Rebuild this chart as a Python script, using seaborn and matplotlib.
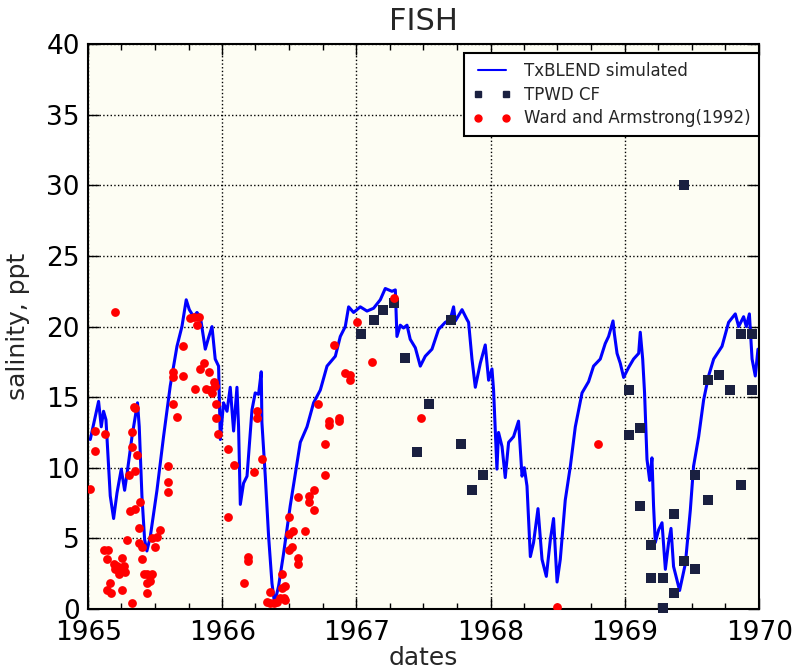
import numpy as np
import pandas as pd
import matplotlib
matplotlib.use("Agg")
import matplotlib.pyplot as plt
import matplotlib.dates as mdates
from matplotlib.lines import Line2D
import seaborn as sns

# TxBLEND simulated salinity (decimal year, ppt)
sim_year = [
    1965.015, 1965.077, 1965.097, 1965.114, 1965.132, 1965.139, 1965.164, 1965.189,
    1965.214, 1965.246, 1965.271, 1965.288, 1965.326, 1965.350, 1965.367, 1965.380,
    1965.400, 1965.420, 1965.437, 1965.462, 1965.512, 1965.561, 1965.611, 1965.661,
    1965.698, 1965.730, 1965.753, 1965.785, 1965.810, 1965.835, 1965.872, 1965.896,
    1965.922, 1965.946, 1965.971, 1965.984, 1966.008, 1966.034, 1966.058, 1966.083,
    1966.108, 1966.120, 1966.133, 1966.157, 1966.183, 1966.220, 1966.244, 1966.269,
    1966.289, 1966.294, 1966.319, 1966.344, 1966.369, 1966.388, 1966.418, 1966.455,
    1966.505, 1966.580, 1966.630, 1966.679, 1966.729, 1966.779, 1966.841, 1966.878,
    1966.915, 1966.940, 1966.977, 1967.027, 1967.077, 1967.126, 1967.176, 1967.213,
    1967.263, 1967.288, 1967.300, 1967.325, 1967.349, 1967.375, 1967.399, 1967.437,
    1967.474, 1967.511, 1967.561, 1967.610, 1967.660, 1967.697, 1967.722, 1967.735,
    1967.785, 1967.822, 1967.834, 1967.859, 1967.884, 1967.921, 1967.958, 1967.983,
    1968.008, 1968.020, 1968.045, 1968.057, 1968.083, 1968.107, 1968.132, 1968.169,
    1968.206, 1968.232, 1968.249, 1968.269, 1968.294, 1968.318, 1968.351, 1968.381,
    1968.413, 1968.443, 1968.467, 1968.493, 1968.517, 1968.554, 1968.592, 1968.629,
    1968.679, 1968.728, 1968.765, 1968.815, 1968.852, 1968.877, 1968.910, 1968.920,
    1968.940, 1968.964, 1968.989, 1969.026, 1969.063, 1969.101, 1969.113, 1969.131,
    1969.145, 1969.163, 1969.183, 1969.200, 1969.212, 1969.225, 1969.250, 1969.275,
    1969.300, 1969.324, 1969.342, 1969.361, 1969.406, 1969.449, 1969.486, 1969.510,
    1969.548, 1969.585, 1969.622, 1969.660, 1969.722, 1969.771, 1969.821, 1969.846,
    1969.883, 1969.903, 1969.926, 1969.946, 1969.970, 1969.990,
]
sim_salinity = [
    12.0, 14.7, 12.9, 14.0, 13.4, 12.2, 8.0, 6.4,
    8.2, 9.9, 8.4, 9.5, 12.2, 13.6, 14.6, 12.9,
    8.0, 4.9, 4.1, 5.1, 8.4, 12.2, 15.8, 18.6,
    20.0, 21.9, 21.2, 20.7, 21.0, 20.7, 18.4, 19.2,
    20.0, 17.7, 17.2, 12.0, 14.6, 14.0, 15.7, 12.6,
    15.7, 12.9, 7.4, 8.9, 9.4, 14.1, 15.3, 15.2,
    16.8, 13.2, 9.4, 5.1, 1.8, 0.4, 1.6, 3.9,
    7.3, 11.8, 12.9, 14.6, 15.5, 17.2, 17.9, 19.3,
    20.0, 21.4, 21.0, 21.4, 21.1, 21.3, 21.9, 22.7,
    22.5, 22.6, 19.3, 20.1, 19.9, 20.1, 19.1, 18.5,
    17.2, 17.9, 18.4, 19.8, 20.3, 20.5, 21.4, 20.4,
    21.2, 20.5, 20.3, 17.7, 15.7, 17.4, 18.7, 16.2,
    17.0, 15.5, 9.9, 12.5, 11.5, 9.3, 11.8, 12.2,
    13.3, 9.4, 10.0, 8.7, 3.7, 4.7, 7.1, 3.5,
    2.3, 4.9, 6.4, 1.9, 3.5, 7.7, 10.1, 12.9,
    15.3, 16.1, 17.2, 17.7, 18.8, 19.3, 20.4, 19.5,
    18.1, 17.4, 16.4, 17.1, 17.7, 18.1, 19.6, 17.7,
    15.3, 10.6, 9.1, 10.7, 7.3, 4.7, 5.6, 6.1,
    2.8, 4.7, 5.7, 3.0, 1.3, 3.2, 7.0, 10.1,
    12.2, 14.8, 16.5, 17.7, 18.6, 20.3, 20.9, 20.0,
    20.7, 20.0, 20.9, 17.7, 16.5, 18.4,
]

# TPWD CF observations
tpwd_year = [
    1967.034, 1967.126, 1967.196, 1967.275, 1967.357, 1967.452, 1967.536, 1967.700,
    1967.780, 1967.859, 1967.941, 1969.031, 1969.031, 1969.113, 1969.113, 1969.195,
    1969.195, 1969.280, 1969.280, 1969.361, 1969.361, 1969.441, 1969.441, 1969.523,
    1969.523, 1969.618, 1969.618, 1969.700, 1969.782, 1969.861, 1969.861, 1969.943,
    1969.943,
]
tpwd_salinity = [
    19.5, 20.5, 21.2, 21.7, 17.8, 11.1, 14.5, 20.5,
    11.7, 8.4, 9.5, 15.5, 12.3, 12.8, 7.3, 4.5,
    2.2, 2.2, 0.05, 6.7, 1.1, 30.0, 3.4, 9.5,
    2.8, 16.2, 7.7, 16.6, 15.5, 19.5, 8.8, 19.5,
    15.5,
]

# Ward and Armstrong (1992) observations
ward_year = [
    1965.201, 1965.052, 1965.052, 1965.015, 1965.127, 1965.114, 1965.147, 1965.139,
    1965.164, 1965.139, 1965.171, 1965.189, 1965.214, 1965.201, 1965.226, 1965.251,
    1965.263, 1965.276, 1965.238, 1965.251, 1965.288, 1965.326, 1965.300, 1965.313,
    1965.350, 1965.388, 1965.350, 1965.338, 1965.326, 1965.326, 1965.363, 1965.350,
    1965.375, 1965.375, 1965.400, 1965.400, 1965.412, 1965.437, 1965.462, 1965.437,
    1965.462, 1965.437, 1965.475, 1965.499, 1965.475, 1965.512, 1965.537, 1965.594,
    1965.594, 1965.594, 1965.628, 1965.628, 1965.628, 1965.661, 1965.706, 1965.706,
    1965.760, 1965.785, 1965.822, 1965.810, 1965.797, 1965.835, 1965.859, 1965.896,
    1965.877, 1965.909, 1965.922, 1965.946, 1965.934, 1965.954, 1965.954, 1965.966,
    1966.043, 1966.083, 1966.043, 1966.187, 1966.187, 1966.162, 1966.232, 1966.257,
    1966.257, 1966.294, 1966.332, 1966.351, 1966.356, 1966.381, 1966.406, 1966.431,
    1966.455, 1966.468, 1966.443, 1966.468, 1966.443, 1966.493, 1966.518, 1966.493,
    1966.525, 1966.493, 1966.560, 1966.560, 1966.560, 1966.612, 1966.642, 1966.642,
    1966.679, 1966.679, 1966.712, 1966.761, 1966.761, 1966.796, 1966.796, 1966.865,
    1966.865, 1966.833, 1966.910, 1966.947, 1966.947, 1967.005, 1967.114, 1967.275,
    1967.476, 1968.493, 1968.798,
]
ward_salinity = [
    21.0, 12.6, 11.2, 8.5, 12.4, 4.2, 4.2, 3.5,
    1.8, 1.3, 1.1, 3.2, 3.0, 2.8, 2.5, 3.6,
    3.0, 2.6, 2.9, 1.3, 4.9, 0.4, 9.5, 6.9,
    7.1, 7.6, 14.2, 14.3, 12.5, 11.5, 10.9, 9.8,
    5.7, 4.7, 4.4, 3.5, 2.5, 2.5, 2.3, 1.8,
    2.0, 1.1, 2.5, 4.4, 5.0, 5.1, 5.6, 10.1,
    9.0, 8.3, 16.8, 16.4, 14.5, 13.6, 18.6, 16.5,
    20.6, 20.7, 20.7, 20.1, 15.6, 17.0, 17.4, 16.8,
    15.6, 15.5, 15.3, 15.8, 16.1, 14.5, 13.5, 12.4,
    11.3, 10.2, 6.5, 3.7, 3.4, 1.8, 9.7, 14.0,
    13.5, 10.6, 0.5, 1.2, 0.4, 0.4, 0.5, 0.8,
    0.8, 0.6, 1.5, 1.6, 2.5, 4.2, 4.4, 5.3,
    5.5, 6.5, 7.9, 3.6, 3.2, 5.5, 8.0, 7.6,
    8.4, 7.0, 14.5, 11.7, 9.5, 13.3, 13.0, 13.5,
    13.3, 18.7, 16.7, 16.6, 16.2, 20.3, 17.5, 22.0,
    13.5, 0.15, 11.7,
]


def to_dates(years):
    y = np.asarray(years, dtype=float)
    return pd.Timestamp("1965-01-01") + pd.to_timedelta((y - 1965.0) * 365.25, unit="D")


sim = pd.DataFrame({"date": to_dates(sim_year), "salinity": sim_salinity})
tpwd = pd.DataFrame({"date": to_dates(tpwd_year), "salinity": tpwd_salinity})
ward = pd.DataFrame({"date": to_dates(ward_year), "salinity": ward_salinity})

NAVY = "#1a2040"
BG = "#fdfdf3"

sns.set_style("ticks")
plt.rcParams["font.family"] = ["DejaVu Sans"]

fig, ax = plt.subplots(figsize=(7.95, 6.72), dpi=100)
fig.subplots_adjust(left=0.111, right=0.955, bottom=0.094, top=0.934)
ax.set_facecolor(BG)

sns.lineplot(data=sim, x="date", y="salinity", color="#0000ff", linewidth=2.2,
             estimator=None, ax=ax, zorder=2)
sns.scatterplot(data=tpwd, x="date", y="salinity", marker="s", color=NAVY, s=42,
                linewidth=0, ax=ax, zorder=3, clip_on=False)
sns.scatterplot(data=ward, x="date", y="salinity", marker="o", color="red", s=40,
                linewidth=0, ax=ax, zorder=3, clip_on=True)

ax.set_xlim(pd.Timestamp("1965-01-01"), pd.Timestamp("1970-01-01"))
ax.set_ylim(0, 40)
ax.set_yticks(np.arange(0, 41, 5))
ax.xaxis.set_major_locator(mdates.YearLocator())
ax.xaxis.set_major_formatter(mdates.DateFormatter("%Y"))
ax.xaxis.set_minor_locator(mdates.MonthLocator(bymonth=[4, 7, 10]))

ax.grid(True, which="major", color="black", linestyle=":", linewidth=1.0)
ax.tick_params(which="both", direction="in", top=True, right=True, colors="black")
ax.tick_params(which="major", length=8, width=1, labelsize=19)
ax.tick_params(axis="x", which="major", pad=8)
ax.tick_params(axis="y", which="major", pad=6)
ax.tick_params(which="minor", length=4, width=1)
for sp in ax.spines.values():
    sp.set_color("black")
    sp.set_linewidth(1.5)

ax.set_title("FISH", fontsize=22, pad=10)
ax.set_xlabel("dates", fontsize=18, labelpad=0)
ax.set_ylabel("salinity, ppt", fontsize=18, labelpad=12)

handles = [
    Line2D([], [], color="#0000ff", linewidth=1.5),
    Line2D([], [], linestyle="", marker="s", color=NAVY, markersize=5),
    Line2D([], [], linestyle="", marker="o", color="red", markersize=5),
]
leg = ax.legend(handles, ["TxBLEND simulated", "TPWD CF", "Ward and Armstrong(1992)"],
                loc="upper right", bbox_to_anchor=(1.0, 0.984), numpoints=2,
                fontsize=12, fancybox=False, framealpha=1, edgecolor="black",
                facecolor="white", borderaxespad=0.0, handlelength=2.3,
                labelspacing=0.35, borderpad=0.5)
leg.get_frame().set_linewidth(1.5)

plt.savefig("out.png", dpi=100)
plt.close(fig)
